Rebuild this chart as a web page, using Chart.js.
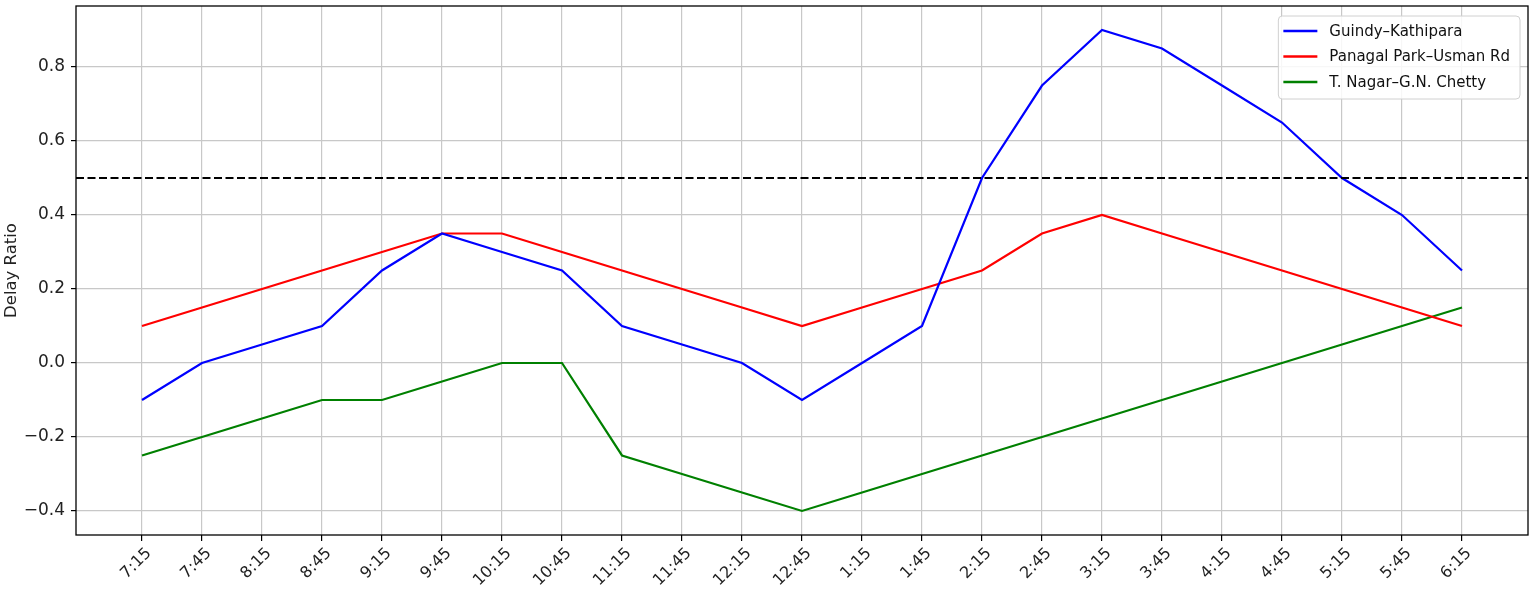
<!DOCTYPE html>
<html>
<head>
<meta charset="utf-8">
<script src="https://cdn.jsdelivr.net/npm/chart.js"></script>
<style>
  html, body { margin: 0; padding: 0; background: #fff; }
  #wrap { width: 1535px; height: 599px; }
</style>
</head>
<body>
<div id="wrap"><canvas id="myChart" width="1535" height="599"></canvas></div>
<script>
// time slots on the x axis
const timeSlots = ['7:15', '7:45', '8:15', '8:45', '9:15', '9:45', '10:15', '10:45', '11:15', '11:45',
  '12:15', '12:45', '1:15', '1:45', '2:15', '2:45', '3:15', '3:45', '4:15', '4:45', '5:15', '5:45', '6:15'];

// delay ratio per corridor
const guindyKathipara = [-0.1, 0.0, 0.05, 0.1, 0.25, 0.35, 0.3, 0.25, 0.1, 0.05, 0.0, -0.1,
  0.0, 0.1, 0.5, 0.75, 0.9, 0.85, 0.75, 0.65, 0.5, 0.4, 0.25];
const panagalPark = [0.1, 0.15, 0.2, 0.25, 0.3, 0.35, 0.35, 0.3, 0.25, 0.2, 0.15, 0.1,
  0.15, 0.2, 0.25, 0.35, 0.4, 0.35, 0.3, 0.25, 0.2, 0.15, 0.1];
const tNagar = [-0.25, -0.2, -0.15, -0.1, -0.1, -0.05, 0.0, 0.0, -0.25, -0.3, -0.35, -0.4,
  -0.35, -0.3, -0.25, -0.2, -0.15, -0.1, -0.05, 0.0, 0.05, 0.1, 0.15];

const seriesNames = ['Guindy\u2013Kathipara', 'Panagal Park\u2013Usman Rd', 'T. Nagar\u2013G.N. Chetty'];
const yTicks = [-0.4, -0.2, 0.0, 0.2, 0.4, 0.6, 0.8];
const threshold = 0.5;

const ctx = document.getElementById('myChart');

function toPoints(arr) {
  return arr.map((v, i) => ({ x: i, y: v }));
}

// horizontal dashed reference line
const thresholdLine = {
  id: 'thresholdLine',
  afterDatasetsDraw(chart) {
    const { ctx, chartArea } = chart;
    const y = chart.scales.y.getPixelForValue(threshold);
    ctx.save();
    ctx.strokeStyle = '#000';
    ctx.lineWidth = 2.2;
    ctx.setLineDash([8, 3.5]);
    ctx.beginPath();
    ctx.moveTo(chartArea.left, y);
    ctx.lineTo(chartArea.right, y);
    ctx.stroke();
    ctx.restore();
  }
};

// box around the plot, like matplotlib spines
const frame = {
  id: 'frame',
  afterDatasetsDraw(chart) {
    const { ctx, chartArea } = chart;
    ctx.save();
    ctx.strokeStyle = '#000';
    ctx.lineWidth = 1.3;
    ctx.strokeRect(chartArea.left, chartArea.top, chartArea.right - chartArea.left, chartArea.bottom - chartArea.top);
    ctx.restore();
  }
};

// legend inside the upper right corner
const innerLegend = {
  id: 'innerLegend',
  afterDraw(chart) {
    const { ctx, chartArea } = chart;
    const sets = chart.data.datasets.filter(d => d.label);
    ctx.save();
    ctx.font = '15px "DejaVu Sans"';
    let maxW = 0;
    sets.forEach(d => { maxW = Math.max(maxW, ctx.measureText(d.label).width); });
    const w = 51 + maxW + 10;
    const h = 83;
    const x = chartArea.right - 8 - w;
    const y = chartArea.top + 10;
    ctx.beginPath();
    ctx.roundRect(x, y, w, h, 4);
    ctx.fillStyle = 'rgba(255,255,255,0.85)';
    ctx.fill();
    ctx.strokeStyle = '#d0d0d0';
    ctx.lineWidth = 1;
    ctx.stroke();
    sets.forEach((d, i) => {
      const cy = y + 15 + i * 25.5;
      ctx.strokeStyle = d.borderColor;
      ctx.lineWidth = 2.4;
      ctx.beginPath();
      ctx.moveTo(x + 5, cy);
      ctx.lineTo(x + 39, cy);
      ctx.stroke();
      ctx.fillStyle = '#111';
      ctx.textBaseline = 'middle';
      ctx.fillText(d.label, x + 51, cy + 1);
    });
    ctx.restore();
  }
};

new Chart(ctx, {
  type: 'line',
  data: {
    datasets: [
      { label: seriesNames[0], data: toPoints(guindyKathipara), borderColor: '#0000ff' },
      { label: seriesNames[1], data: toPoints(panagalPark), borderColor: '#ff0000' },
      { label: seriesNames[2], data: toPoints(tNagar), borderColor: '#008000' }
    ].map(d => Object.assign(d, { borderWidth: 2.2, pointRadius: 0, fill: false, tension: 0 }))
  },
  options: {
    responsive: false,
    animation: false,
    layout: { padding: { left: 0, top: 6, right: 7, bottom: 0 } },
    plugins: {
      legend: { display: false },
      tooltip: { enabled: false }
    },
    scales: {
      x: {
        type: 'linear',
        min: -1.1,
        max: 23.1,
        afterBuildTicks(axis) {
          axis.ticks = timeSlots.map((_, i) => ({ value: i }));
        },
        afterFit(axis) { axis.height = 64; },
        grid: { color: '#c8c8c8', lineWidth: 1.2, tickColor: '#000', tickLength: 6 },
        border: { display: false },
        ticks: {
          autoSkip: false,
          minRotation: 45,
          maxRotation: 45,
          padding: 3,
          labelOffset: 7,
          color: '#222',
          font: { family: 'DejaVu Sans', size: 16 },
          callback: v => timeSlots[v]
        }
      },
      y: {
        min: -0.465,
        max: 0.965,
        afterBuildTicks(axis) {
          axis.ticks = yTicks.map(v => ({ value: v }));
        },
        afterFit(axis) {
          axis.width = 76;
          axis.paddingTop = 0;
          axis.paddingBottom = 0;
        },
        grid: { color: '#c8c8c8', lineWidth: 1.2, tickColor: '#000', tickLength: 5 },
        border: { display: false },
        title: {
          display: true,
          text: 'Delay Ratio',
          color: '#222',
          padding: { top: 2, bottom: 0 },
          font: { family: 'DejaVu Sans', size: 16.5 }
        },
        ticks: {
          padding: 6,
          color: '#222',
          font: { family: 'DejaVu Sans', size: 17 },
          callback: v => (v < 0 ? '\u2212' : '') + Math.abs(v).toFixed(1)
        }
      }
    }
  },
  plugins: [thresholdLine, frame, innerLegend]
});
</script>
</body>
</html>
